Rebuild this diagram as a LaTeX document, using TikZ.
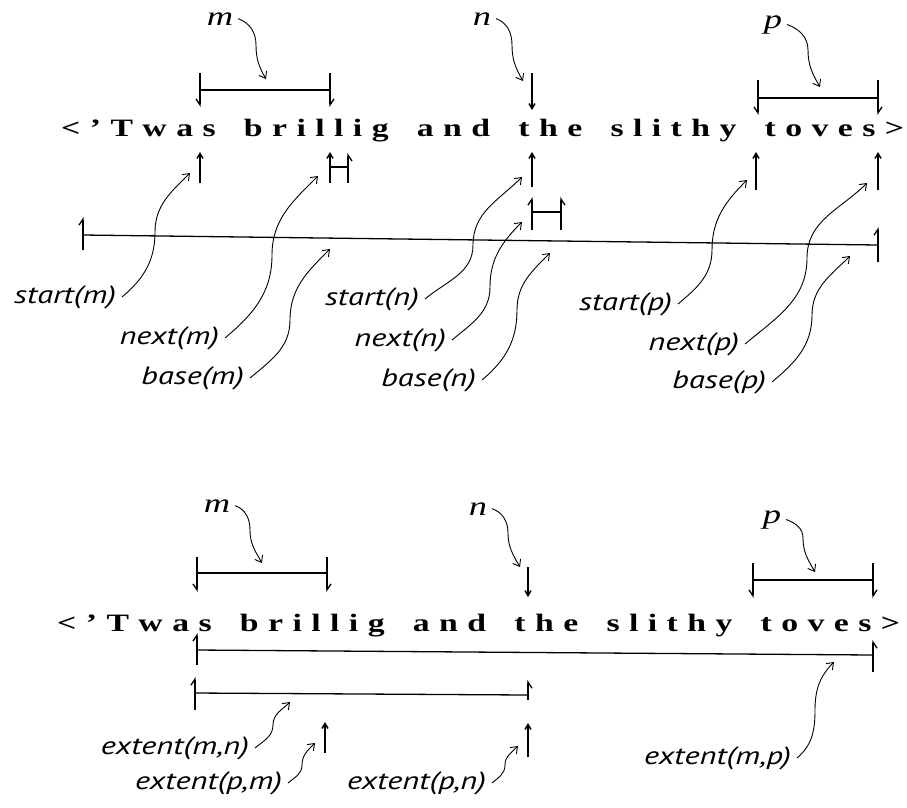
\documentclass[tikz,border=0pt]{standalone}
\usepackage{fontspec}
\usetikzlibrary{arrows.meta}
\newfontfamily\bigfont[FakeStretch=1.35,BoldFeatures={FakeStretch=1.35}]{Liberation Serif}
\newfontfamily\labfont[FakeStretch=1.3,ItalicFeatures={FakeStretch=1.3}]{PT Sans}
\newfontfamily\varfont[FakeStretch=1.35,ItalicFeatures={FakeStretch=1.35}]{Liberation Serif}
\newcommand\sentence{\hbox to 843pt{<\hfil\char"2019\hfil T\hfil w\hfil a\hfil s\hfil\hfil\hfil b\hfil r\hfil i\hfil l\hfil l\hfil i\hfil g\hfil\hfil\hfil a\hfil n\hfil d\hfil\hfil\hfil t\hfil h\hfil e\hfil\hfil\hfil s\hfil l\hfil i\hfil t\hfil h\hfil y\hfil\hfil\hfil t\hfil o\hfil v\hfil e\hfil s\hfil >}}
\tikzset{
  txt/.style={font=\bigfont\bfseries\fontsize{25}{25}\selectfont, inner sep=0, anchor=base west},
  lab/.style={font=\labfont\itshape\fontsize{25}{25}\selectfont, inner sep=0, outer sep=6pt, anchor=east},
  var/.style={font=\varfont\itshape\fontsize{27}{27}\selectfont, inner sep=0, outer sep=5pt, anchor=base},
  crv/.style={line width=0.9pt, -{Straight Barb[length=6pt,width=9pt]}},
  vup/.style={line width=1.5pt, -{Straight Barb[length=5pt,width=6pt]}},
  bar/.style={line width=1.3pt},
  hA/.style={line width=1.3pt, -{Straight Barb[harpoon,length=6pt,width=8pt]}},
  hB/.style={line width=1.3pt, -{Straight Barb[harpoon,swap,length=6pt,width=8pt]}},
}
\begin{document}
\begin{tikzpicture}[x=1pt,y=1pt]
\fill[white] (0,0) rectangle (907,-807);
\useasboundingbox (0,0) rectangle (907,-807);

% ---------------- top part ----------------
\node[txt] (s1) at (61,-136) {\sentence};

\node[var] (vm) at (220,-25) {m};
\node[var] (vn) at (482,-25) {n};
\node[var] (vp) at (773,-28) {p};

\coordinate (mTip) at (266,-79);
\coordinate (nTip) at (523,-81);
\coordinate (pTip) at (820,-87);
\draw[crv] (vm.east) to[out=-20,in=90] (256,-45) to[out=-90,in=120] (mTip);
\draw[crv] (vn.east) to[out=-20,in=90] (512,-45) to[out=-90,in=120] (nTip);
\draw[crv] (vp.east) to[out=-20,in=90] (808,-50) to[out=-90,in=120] (pTip);

% bracket m
\coordinate (bmL) at (200,-90); \coordinate (bmR) at (330,-90);
\draw[bar] (bmL) -- (bmR);
\draw[hB] (200,-73) -- (200,-107);
\draw[hA] (330,-73) -- (330,-107);
% n down arrow
\draw[vup] (532,-73) -- (532,-110);
% bracket p
\coordinate (bpL) at (758,-98); \coordinate (bpR) at (878,-98);
\draw[bar] (bpL) -- (bpR);
\draw[hB] (758,-80) -- (758,-115);
\draw[hA] (878,-80) -- (878,-115);

% up arrows under text
\coordinate (smT) at (200,-152);
\coordinate (nmT) at (330,-152);
\coordinate (snT) at (532,-152);
\coordinate (spT) at (756,-152);
\coordinate (npT) at (878,-152);
\draw[vup] (200,-183) -- (smT);
\draw[vup] (330,-183) -- (nmT);
\draw[vup] (532,-187) -- (snT);
\draw[vup] (756,-190) -- (spT);
\draw[vup] (878,-190) -- (npT);
% H at next(m)
\draw[hB] (348,-183) -- (348,-153);
\draw[bar] (330,-167) -- (348,-167);
% H at next(n)
\draw[hA] (532,-230) -- (532,-197);
\draw[hB] (561,-230) -- (561,-197);
\draw[bar] (532,-212) -- (561,-212);

% base line
\coordinate (tlL) at (83,-235); \coordinate (tlR) at (878,-245);
\draw[bar] (tlL) -- (tlR);
\draw[hA] (83,-250) -- (83,-217);
\draw[hA] (878,-262) -- (878,-227);

% labels
\node[lab] (lsm) at (122,-297) {start(m)};
\node[lab] (lnm) at (225,-338) {next(m)};
\node[lab] (lbm) at (250,-378) {base(m)};
\node[lab] (lsn) at (425,-299) {start(n)};
\node[lab] (lnn) at (452,-340) {next(n)};
\node[lab] (lbn) at (482,-380) {base(n)};
\node[lab] (lsp) at (678,-304) {start(p)};
\node[lab] (lnp) at (745,-344) {next(p)};
\node[lab] (lbp) at (772,-382) {base(p)};

\coordinate (tsm) at (190,-173);
\coordinate (tnm) at (318,-176);
\coordinate (tbm) at (330,-249);
\coordinate (tsn) at (522,-177);
\coordinate (tnn) at (522,-222);
\coordinate (tbn) at (550,-253);
\coordinate (tsp) at (747,-180);
\coordinate (tnp) at (867,-183);
\coordinate (tbp) at (850,-256);

\draw[crv] (lsm.east) to[out=40,in=-90] (155,-232) to[out=90,in=-135] (tsm);
\draw[crv] (lnm.east) to[out=40,in=-90] (272,-255) to[out=90,in=-135] (tnm);
\draw[crv] (lbm.east) to[out=40,in=-90] (290,-320) to[out=90,in=-135] (tbm);
\draw[crv] (lsn.east) to[out=40,in=-90] (473,-245) to[out=90,in=-135] (tsn);
\draw[crv] (lnn.east) to[out=40,in=-90] (490,-287) to[out=90,in=-135] (tnn);
\draw[crv] (lbn.east) to[out=40,in=-90] (517,-310) to[out=90,in=-135] (tbn);
\draw[crv] (lsp.east) to[out=40,in=-90] (712,-250) to[out=90,in=-135] (tsp);
\draw[crv] (lnp.east) to[out=40,in=-90] (807,-258) to[out=90,in=-135] (tnp);
\draw[crv] (lbp.east) to[out=40,in=-90] (812,-315) to[out=90,in=-135] (tbp);

% ---------------- bottom part ----------------
\node[txt] (s2) at (57,-631) {\sentence};

\node[var] (wm) at (217,-512) {m};
\node[var] (wn) at (478,-515) {n};
\node[var] (wp) at (772,-523) {p};

\coordinate (wmTip) at (262,-563);
\coordinate (wnTip) at (520,-567);
\coordinate (wpTip) at (815,-572);
\draw[crv] (wm.east) to[out=-20,in=90] (250,-530) to[out=-90,in=120] (wmTip);
\draw[crv] (wn.east) to[out=-20,in=90] (508,-533) to[out=-90,in=120] (wnTip);
\draw[crv] (wp.east) to[out=-20,in=90] (803,-538) to[out=-90,in=120] (wpTip);

% bracket m
\coordinate (cmL) at (197,-573); \coordinate (cmR) at (327,-573);
\draw[bar] (cmL) -- (cmR);
\draw[hB] (197,-557) -- (197,-592);
\draw[hA] (327,-557) -- (327,-592);
% n down arrow
\draw[vup] (528,-567) -- (528,-597);
% bracket p
\coordinate (cpL) at (753,-580); \coordinate (cpR) at (873,-580);
\draw[bar] (cpL) -- (cpR);
\draw[hB] (753,-563) -- (753,-598);
\draw[hA] (873,-563) -- (873,-598);

% extent(m,p)
\coordinate (emp1) at (197,-650); \coordinate (emp2) at (873,-655);
\draw[bar] (emp1) -- (emp2);
\draw[hA] (197,-665) -- (197,-633);
\draw[hB] (873,-672) -- (873,-640);
% extent(m,n)
\coordinate (emn1) at (195,-693); \coordinate (emn2) at (528,-695);
\draw[bar] (emn1) -- (emn2);
\draw[hA] (195,-710) -- (195,-677);
\draw[hB] (528,-700) -- (528,-680);
% extent(p,m), extent(p,n)
\coordinate (epm) at (325,-722);
\coordinate (epn) at (528,-723);
\draw[vup] (325,-753) -- (epm);
\draw[vup] (528,-757) -- (epn);

\node[lab] (xmn) at (255,-748) {extent(m,n)};
\node[lab] (xpm) at (288,-783) {extent(p,m)};
\node[lab] (xpn) at (492,-783) {extent(p,n)};
\node[lab] (xmp) at (797,-758) {extent(m,p)};

\coordinate (txmn) at (290,-702);
\coordinate (txpm) at (315,-743);
\coordinate (txpn) at (518,-746);
\coordinate (txmp) at (834,-662);
\draw[crv] (xmn.east) to[out=40,in=-90] (273,-725) to[out=90,in=-135] (txmn);
\draw[crv] (xpm.east) to[out=40,in=-90] (302,-765) to[out=90,in=-135] (txpm);
\draw[crv] (xpn.east) to[out=40,in=-90] (505,-765) to[out=90,in=-135] (txpn);
\draw[crv] (xmp.east) to[out=40,in=-90] (815,-710) to[out=90,in=-135] (txmp);
\end{tikzpicture}
\end{document}
